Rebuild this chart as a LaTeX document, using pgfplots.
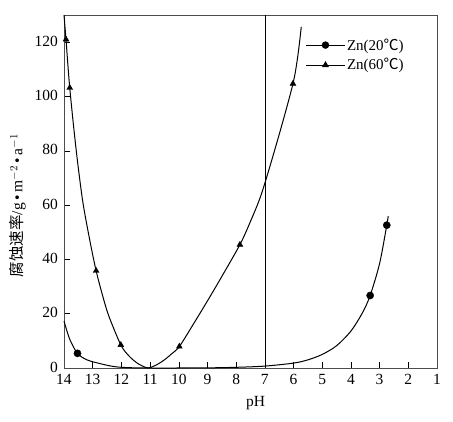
\documentclass[border=0pt]{standalone}
\usepackage{fontspec}
\setmainfont{Liberation Serif}
\newfontfamily\cjk{Noto Sans CJK SC}
\usepackage{pgfplots}
\pgfplotsset{compat=1.18}

\begin{document}
\begin{tikzpicture}
\useasboundingbox (-64pt,-54pt) rectangle (389pt,368pt);
\begin{axis}[
    scale only axis,
    width=373pt, height=353pt,
    x dir=reverse,
    xmin=1, xmax=14, ymin=0, ymax=130,
    xtick={1,...,14}, ytick={0,20,...,120},
    tick align=inside, tick pos=left,
    major tick length=6pt,
    axis line style={gray!60!black, line width=0.6pt},
    tick style={black, line width=0.5pt},
    /pgf/number format/assume math mode=true,
    ticklabel style={font=\fontsize{15.5}{17}\selectfont},
    xticklabel style={yshift=-3pt},
    yticklabel style={xshift=-2.5pt, yshift=1pt},
    xlabel={pH},
    xlabel style={font=\fontsize{15.5}{17}\selectfont, yshift=-4pt, xshift=5pt},
    ylabel={{\cjk 腐蚀速率}/g\,•\,m$^{-2}$\,•\,a$^{-1}$},
    ylabel style={font=\fontsize{15.5}{17}\selectfont, yshift=2pt, xshift=-14pt},
    legend style={draw=none, fill=none, font=\fontsize{15}{17}\selectfont,
        at={(0.64,0.945)}, anchor=north west, row sep=3pt},
    legend cell align=left,
    legend image code/.code={\draw[mark repeat=2,mark phase=2,#1]
        plot coordinates {(0cm,0cm) (0.67cm,0cm) (1.34cm,0cm)};},
    clip=false,
]
\addplot[black, line width=0.4pt, forget plot] coordinates {(7,0) (7,130)};
% Zn 20 C
\addplot[black, line width=1pt, smooth, forget plot] coordinates {
    (14,17.3) (13.8,10.6) (13.53,5.4) (13.2,3.0) (12.7,1.5) (12.3,0.6)
    (12,0.25) (11.5,0.05) (11,0) (10,0) (9,0.05) (8,0.25) (7,0.7) (6,1.8)
    (5.5,3.0) (5,5) (4.5,8.2) (4,13.6) (3.6,20.3) (3.33,26.7) (3,38.5)
    (2.75,52.6) (2.70,55.9)
};
\addplot[black, only marks, mark=*, mark size=3.6pt, forget plot] coordinates {
    (13.53,5.4) (3.33,26.7) (2.75,52.6)
};
% Zn 60 C
\addplot[black, line width=1pt, smooth, forget plot] coordinates {
    (14,130) (13.93,121) (13.8,103.2) (13.58,80.7) (13.35,61.6) (13.1,47)
    (12.88,35.8) (12.65,26.5) (12.44,19.2) (12.02,8.5) (11.75,4.6)
    (11.5,2.2) (11.3,0.9) (11.06,0) (10.75,1.3) (10.5,3.0) (10.25,5.2)
    (9.98,7.9) (9.5,16.0) (9,24.7) (8.5,33.7) (7.87,45.4) (7.5,54.0)
    (7.1,64.7) (6.5,86) (6.02,104.7) (5.85,115) (5.73,125.6)
};
\addplot[black, only marks, mark=triangle*, mark size=3.4pt, forget plot] coordinates {
    (13.93,121) (13.8,103.2) (12.88,35.8) (12.02,8.5) (9.98,7.9)
    (7.87,45.4) (6.02,104.7)
};
\addlegendimage{black, line width=1pt, mark=*, mark size=3.2pt}
\addlegendentry{Zn(20{\cjk ℃})}
\addlegendimage{black, line width=1pt, mark=triangle*, mark size=3pt}
\addlegendentry{Zn(60{\cjk ℃})}
\end{axis}
\end{tikzpicture}
\end{document}
